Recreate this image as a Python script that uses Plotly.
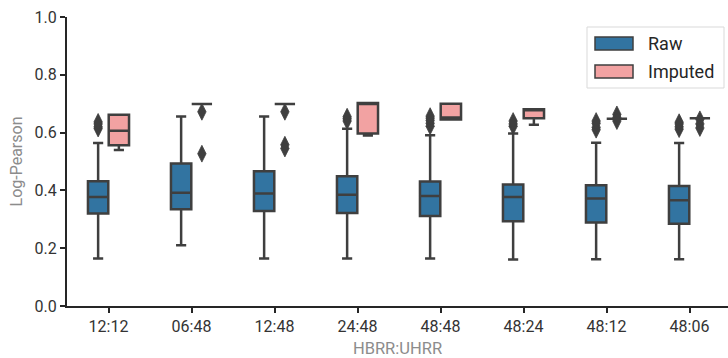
import plotly.graph_objects as go

# Groups along the x axis
categories = ["12:12", "06:48", "12:48", "24:48", "48:48", "48:24", "48:12", "48:06"]

# Raw: box statistics per group
raw_low = [0.164, 0.210, 0.164, 0.164, 0.164, 0.161, 0.162, 0.162]
raw_q1 = [0.320, 0.335, 0.329, 0.322, 0.311, 0.293, 0.289, 0.285]
raw_median = [0.377, 0.392, 0.389, 0.385, 0.381, 0.377, 0.372, 0.366]
raw_q3 = [0.432, 0.493, 0.466, 0.449, 0.431, 0.420, 0.418, 0.415]
raw_high = [0.564, 0.656, 0.656, 0.613, 0.591, 0.597, 0.565, 0.564]
raw_outliers = [
    [0.614, 0.620, 0.630, 0.637],
    [],
    [],
    [0.640, 0.648, 0.655],
    [0.622, 0.632, 0.642, 0.650, 0.657],
    [0.622, 0.630, 0.640],
    [0.610, 0.618, 0.632, 0.640],
    [0.612, 0.620, 0.630, 0.636],
]

# Imputed: box statistics per group
imp_low = [0.540, 0.699, 0.699, 0.590, 0.645, 0.627, 0.648, 0.650]
imp_q1 = [0.556, 0.699, 0.699, 0.597, 0.645, 0.650, 0.648, 0.650]
imp_median = [0.606, 0.699, 0.699, 0.700, 0.652, 0.678, 0.648, 0.650]
imp_q3 = [0.662, 0.699, 0.699, 0.702, 0.700, 0.681, 0.648, 0.650]
imp_high = [0.662, 0.699, 0.699, 0.702, 0.700, 0.681, 0.648, 0.650]
imp_outliers = [
    [],
    [0.672, 0.527],
    [0.672, 0.558, 0.545],
    [],
    [],
    [],
    [0.663, 0.652, 0.640],
    [0.646, 0.630, 0.616],
]

series_names = ["Raw", "Imputed"]

RAW_COLOR = "#3274a1"
IMP_COLOR = "#f2a2a2"
EDGE = "#3f3f3f"
INK = "#262626"
MUTED = "#8c8c8c"
FONT = "Roboto"

W, H = 728, 358
ML, MR, MT, MB = 67, 0, 17, 52
BOX_W = 0.245
OFFSET = 0.125

fig = go.Figure()

series = [
    (series_names[0], RAW_COLOR, -OFFSET, raw_low, raw_q1, raw_median, raw_q3, raw_high, raw_outliers),
    (series_names[1], IMP_COLOR, OFFSET, imp_low, imp_q1, imp_median, imp_q3, imp_high, imp_outliers),
]

for name, color, off, lo, q1, med, q3, hi, outs in series:
    xs = [i + off for i in range(len(categories))]
    fig.add_trace(go.Box(
        name=name,
        x=xs,
        lowerfence=lo, q1=q1, median=med, q3=q3, upperfence=hi,
        width=BOX_W,
        whiskerwidth=0.5,
        fillcolor=color,
        line=dict(color=EDGE, width=2.5),
        boxpoints=False,
        showlegend=False,
    ))
    ox, oy = [], []
    for i, vals in enumerate(outs):
        for v in vals:
            ox.append(i + off)
            oy.append(v)
    fig.add_trace(go.Scatter(
        x=ox, y=oy, mode="markers",
        marker=dict(symbol="diamond-tall", size=12, color=EDGE, line=dict(width=0.8, color=EDGE)),
        showlegend=False, hoverinfo="y",
    ))

plot_w = W - ML - MR
plot_h = H - MT - MB
units_per_px = 1 / 83.0
x_left = -0.5
x_right = x_left + plot_w * units_per_px


def px_x(px):
    return (px - ML) / plot_w


def px_y(py):
    return (H - MB - py) / plot_h


# Legend frame and entries
shapes = [dict(type="rect", xref="paper", yref="paper",
               x0=px_x(587), x1=px_x(724), y0=px_y(88), y1=px_y(27),
               line=dict(color="#d9d9d9", width=1), fillcolor="rgba(255,255,255,0.85)", layer="above")]
annotations = []
for k, (name, color) in enumerate(zip(series_names, [RAW_COLOR, IMP_COLOR])):
    cy = 43.5 + k * 28
    shapes.append(dict(type="rect", xref="paper", yref="paper",
                       x0=px_x(595), x1=px_x(633), y0=px_y(cy + 6.5), y1=px_y(cy - 6.5),
                       fillcolor=color, line=dict(color=EDGE, width=1.5), layer="above"))
    annotations.append(dict(xref="paper", yref="paper", x=px_x(646), y=px_y(cy),
                            text=name, showarrow=False, xanchor="left", yanchor="middle",
                            font=dict(family=FONT, size=18, color=INK)))

fig.update_layout(
    width=W, height=H,
    margin=dict(l=ML, r=MR, t=MT, b=MB, autoexpand=False),
    paper_bgcolor="white", plot_bgcolor="white",
    boxmode="overlay",
    font=dict(family=FONT, size=16, color=INK),
    shapes=shapes,
    annotations=annotations,
    showlegend=False,
)

fig.update_xaxes(
    range=[x_left, x_right],
    tickmode="array", tickvals=list(range(len(categories))), ticktext=categories,
    showline=True, linecolor=INK, linewidth=2,
    ticks="outside", ticklen=5, tickwidth=1.5, tickcolor=INK,
    showgrid=False, zeroline=False,
    tickfont=dict(family=FONT, size=16, color="#333333"),
    title=dict(text="HBRR:UHRR", font=dict(family=FONT, size=16.5, color=MUTED), standoff=8),
)

fig.update_yaxes(
    range=[0, 1],
    tickmode="array", tickvals=[0, 0.2, 0.4, 0.6, 0.8, 1.0],
    ticktext=["0.0", "0.2", "0.4", "0.6", "0.8", "1.0"],
    showline=True, linecolor=INK, linewidth=2,
    ticks="outside", ticklen=5, tickwidth=1.5, tickcolor=INK,
    showgrid=False, zeroline=False,
    tickfont=dict(family=FONT, size=16, color="#333333"),
    title=dict(text="Log-Pearson", font=dict(family=FONT, size=16, color=MUTED), standoff=8),
)

fig.write_html("out.html")
